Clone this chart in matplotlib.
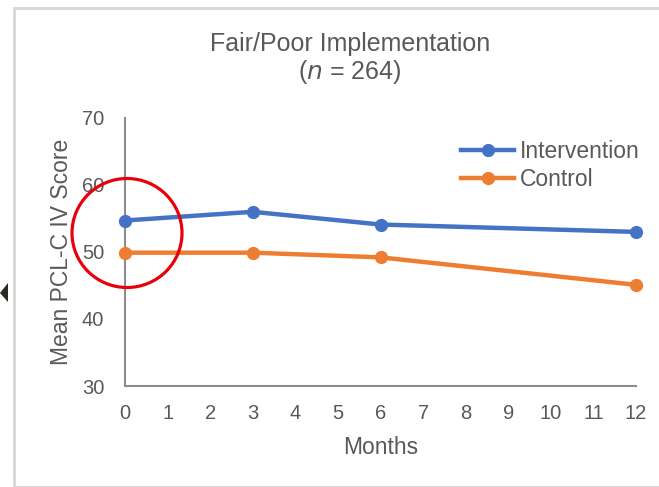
import matplotlib
matplotlib.use('Agg')
import matplotlib.pyplot as plt
from matplotlib.patches import Ellipse, Rectangle, Polygon

plt.rcParams['font.family'] = ['Liberation Sans', 'DejaVu Sans']

months = [0, 3, 6, 12]
intervention = [54.7, 56.0, 54.1, 53.0]
control = [49.9, 49.9, 49.2, 45.1]
xticks = list(range(0, 13))
yticks = [30, 40, 50, 60, 70]

TEXT = '#595959'
AXIS = '#8c8c8c'
BLUE = '#4472C4'
ORANGE = '#ED7D31'

W, H = 659, 487
fig = plt.figure(figsize=(W / 100, H / 100), dpi=100)
ax = fig.add_axes([125 / W, 1 - 386 / H, (636 - 125) / W, (386 - 118) / H])

ax.plot(months, intervention, color=BLUE, lw=3.2, marker='o', ms=8.5,
        label='Intervention', clip_on=False, zorder=3)
ax.plot(months, control, color=ORANGE, lw=3.2, marker='o', ms=8.5,
        label='Control', clip_on=False, zorder=3)

ax.set_xlim(0, 12)
ax.set_ylim(30, 70)
ax.set_xticks(xticks)
ax.set_yticks(yticks)
ax.tick_params(length=0, labelsize=14.5, colors=TEXT)
ax.tick_params(axis='x', pad=13)
ax.tick_params(axis='y', pad=15)
for side in ['top', 'right']:
    ax.spines[side].set_visible(False)
for side in ['left', 'bottom']:
    ax.spines[side].set_color(AXIS)
    ax.spines[side].set_linewidth(1.5)

ax.set_xlabel('Months', fontsize=16.5, color=TEXT, va='center')
ax.set_ylabel('Mean PCL-C IV Score', fontsize=16.5, color=TEXT, va='center')
ax.xaxis.set_label_coords(0.5, (386 - 447) / 268)
ax.yaxis.set_label_coords((62 - 125) / 511, 0.5)

fig.text(350 / W, 1 - 44 / H, 'Fair/Poor Implementation', ha='center',
         va='center', fontsize=18, color=TEXT)
fig.text(350 / W, 1 - 72 / H, '($\\mathit{n}$ = 264)', ha='center',
         va='center', fontsize=18, color=TEXT)

ax.legend(loc='upper left', bbox_to_anchor=(450 / W, 1 - 129 / H),
          bbox_transform=fig.transFigure, frameon=False, fontsize=16.5,
          labelcolor=TEXT, handlelength=2.3, handletextpad=0.25,
          labelspacing=0.2, borderpad=0)

# outer frame of the slide
fig.add_artist(Rectangle((14 / W, 0), 1, 1 - 8 / H, transform=fig.transFigure,
                         fill=False, edgecolor='#d6d6d6', lw=2))

# highlight ring around baseline values
fig.add_artist(Ellipse((127 / W, 1 - 233 / H), 110 / W, 109 / H,
                       transform=fig.transFigure, fill=False,
                       edgecolor='#e8000b', lw=2.3, zorder=5))

# pointer arrowhead at left edge
fig.add_artist(Polygon([(0, 1 - 293 / H), (8 / W, 1 - 283 / H), (8 / W, 1 - 302 / H)],
                       closed=True, transform=fig.transFigure,
                       facecolor='#2b2a22', edgecolor='none'))

fig.savefig('out.png', dpi=100)
